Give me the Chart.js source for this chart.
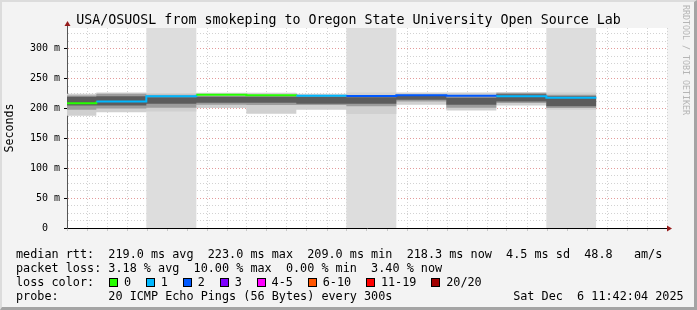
<!DOCTYPE html>
<html>
<head>
<meta charset="utf-8">
<title>USA/OSUOSL smokeping</title>
<script src="https://cdn.jsdelivr.net/npm/chart.js@4.4.1/dist/chart.umd.min.js"></script>
<style>
html,body{margin:0;padding:0;background:#f3f3f3;overflow:hidden}
#box{position:relative;width:697px;height:310px;background:#f3f3f3}
#c{position:absolute;left:0;top:0}
.frame{position:absolute;left:0;top:0;width:697px;height:310px;box-sizing:border-box;border-top:2px solid #dcdcdc;border-left:2px solid #dcdcdc;border-right:3px solid #a4a4a4;border-bottom:3px solid #a4a4a4;pointer-events:none}
#title{position:absolute;left:0;top:12px;width:697px;text-align:center;font:13.3px/16px "DejaVu Sans Mono",monospace;white-space:pre;color:#000}
.txt{position:absolute;left:16px;font:11.8px/14px "DejaVu Sans Mono",monospace;white-space:pre;color:#000}
.bx{display:inline-block;width:7px;height:7px;border:1px solid #000;margin:0 6px 0 0.6px;vertical-align:-1px}
#rrd{position:absolute;left:681px;top:5px;font:8.3px/10px "DejaVu Sans Mono",monospace;color:#b5b5b5;writing-mode:vertical-rl;white-space:pre}
</style>
</head>
<body>
<div id="box">
  <canvas id="c" width="697" height="310"></canvas>
  <div id="title">USA/OSUOSL from smokeping to Oregon State University Open Source Lab</div>
  <div class="txt" style="top:247px">median rtt:  219.0 ms avg  223.0 ms max  209.0 ms min  218.3 ms now  4.5 ms sd  48.8   am/s</div>
  <div class="txt" style="top:261px">packet loss: 3.18 % avg  10.00 % max  0.00 % min  3.40 % now</div>
  <div class="txt" id="lc" style="top:275px"></div>
  <div class="txt" style="top:289px">probe:       20 ICMP Echo Pings (56 Bytes) every 300s                 Sat Dec  6 11:42:04 2025</div>
  <div id="rrd">RRDTOOL / TOBI OETIKER</div>
  <div class="frame"></div>
</div>
<script>
const lossLabels = ['0','1','2','3','4-5','6-10','11-19','20/20'];
const lossColours = ['#26ff00','#00b8ff','#0059ff','#7e00ff','#ff00ff','#ff5500','#ff0000','#a10000'];

// 5 minute steps, last entry is the end of the last step
const times = ['10:40','10:45','10:50','10:55','11:00','11:05','11:10','11:15','11:20','11:25','11:30','11:35'];
const median = [209.0,211.7,220.5,223.0,222.2,221.7,221.0,222.5,221.7,220.5,218.3];
const lossIdx = [0,1,1,0,0,1,2,2,2,1,1];
// smoke, outer to inner
const smokeLo = [188,194,195,201,191.5,198,191,206.6,197,205,198];
const smokeHi = [225,227,226,226.7,226.7,225,227,227,227,228,227];
const midLo = [198,200,201.6,206.6,206,206,204,212,201.6,209.5,201];
const midHi = [222,225,223,221,221,221,220.5,223,220.5,226,223];
const coreLo = [205,205,208,210,210,208,208,215,206.6,212,204];
const coreHi = [220,220.5,219,220,220,220,219,221,218,224,220.5];
const shaded = [['10:50','10:55'],['11:10','11:15'],['11:30','11:35']];

const xMin = 42.067, xMax = 102.067, yMax = 335;
const FONT = 'DejaVu Sans Mono';
const majorCol = '#e49a9a', minorCol = '#d2d2d2';

function mins(t){const [h,m]=t.split(':').map(Number);return (h-10)*60+m}
function hhmm(v){const h=10+Math.floor(v/60),m=v%60;return h+':'+String(m).padStart(2,'0')}
function steps(vals){return times.map((t,i)=>({x:mins(t),y:vals[Math.min(i,vals.length-1)]}))}

document.getElementById('lc').innerHTML='loss color:  '+lossLabels.map((l,i)=>`<span class="bx" style="background:${lossColours[i]}"></span>${l}`).join('  ');

function band(lo,hi,col,ord){
  return [
    {data:steps(lo),borderWidth:0,pointRadius:0,stepped:'before',fill:false,order:ord},
    {data:steps(hi),borderWidth:0,pointRadius:0,stepped:'before',fill:'-1',backgroundColor:col,order:ord}
  ];
}

const columns=[{x:mins(times[0]),y:0}].concat(shaded.flatMap(([s,e])=>[{x:mins(s),y:yMax},{x:mins(e),y:0}]));

const plotBg={id:'plotBg',beforeDraw(ch){const a=ch.chartArea,c=ch.ctx;c.save();c.fillStyle='#fff';c.fillRect(a.left,a.top,a.right-a.left,a.bottom-a.top);c.restore()}};
const arrows={id:'arrows',afterDraw(ch){
  const a=ch.chartArea,c=ch.ctx,x=Math.round(a.left)+0.5,y=Math.round(a.bottom)+0.5;
  c.save();
  c.strokeStyle='#555';c.lineWidth=1;
  c.beginPath();c.moveTo(x,a.top);c.lineTo(x,a.top-4);c.stroke();
  c.strokeStyle='#000';c.beginPath();c.moveTo(a.right,y);c.lineTo(a.right+2,y);c.stroke();
  c.fillStyle='#961b1b';
  c.beginPath();c.moveTo(x-3,a.top-2);c.lineTo(x+3,a.top-2);c.lineTo(x,a.top-7);c.closePath();c.fill();
  c.beginPath();c.moveTo(a.right,y-3);c.lineTo(a.right,y+3);c.lineTo(a.right+5,y);c.closePath();c.fill();
  c.restore();
}};

const isMajor=(c,m)=>c.tick&&Math.abs(c.tick.value%m)<1e-6;

new Chart(document.getElementById('c'),{
  type:'line',
  data:{datasets:[
    {data:columns,borderWidth:0,pointRadius:0,stepped:'before',fill:'origin',backgroundColor:'#dddddd',order:20},
    ...band(smokeLo,smokeHi,'#d0d0d0',15),
    ...band(midLo,midHi,'#9c9c9c',10),
    ...band(coreLo,coreHi,'#5c5c5c',5),
    {data:steps(median),borderWidth:2,pointRadius:0,stepped:'before',fill:false,borderCapStyle:'butt',order:0,
     borderColor:lossColours[0],
     segment:{borderColor:c=>lossColours[lossIdx[Math.min(c.p0DataIndex,lossIdx.length-1)]]}}
  ]},
  options:{
    responsive:false,animation:false,
    layout:{padding:{left:0,right:30,top:28,bottom:0}},
    plugins:{legend:{display:false},tooltip:{enabled:false}},
    scales:{
      x:{type:'linear',min:xMin,max:xMax,z:1,
        afterFit:s=>{s.height=82},
        ticks:{stepSize:2,maxTicksLimit:100,autoSkip:false,includeBounds:false,maxRotation:0,padding:1,color:'#000',
          font:{family:FONT,size:10},callback:v=>v%10?'':hhmm(v)},
        grid:{color:c=>isMajor(c,10)?majorCol:minorCol,lineWidth:1,tickLength:3,
          tickColor:c=>isMajor(c,10)?majorCol:'#c8c8c8'},
        border:{color:'#000',width:1,dash:[1,2]}},
      y:{min:0,max:yMax,z:1,
        afterFit:s=>{s.width=67},
        ticks:{stepSize:12.5,maxTicksLimit:100,autoSkip:false,includeBounds:false,padding:4,color:'#000',
          font:{family:FONT,size:10},callback:v=>v%50?'':(v?v+' m':'0  ')},
        grid:{color:c=>isMajor(c,50)?majorCol:minorCol,lineWidth:1,tickLength:3,
          tickColor:c=>isMajor(c,50)?'#000':'rgba(0,0,0,0)'},
        border:{color:'#555',width:1,dash:[1,2]},
        title:{display:true,text:'Seconds',color:'#000',font:{family:FONT,size:11.6},padding:{top:3.5,bottom:0}}}
    }
  },
  plugins:[plotBg,arrows]
});
</script>
</body>
</html>
